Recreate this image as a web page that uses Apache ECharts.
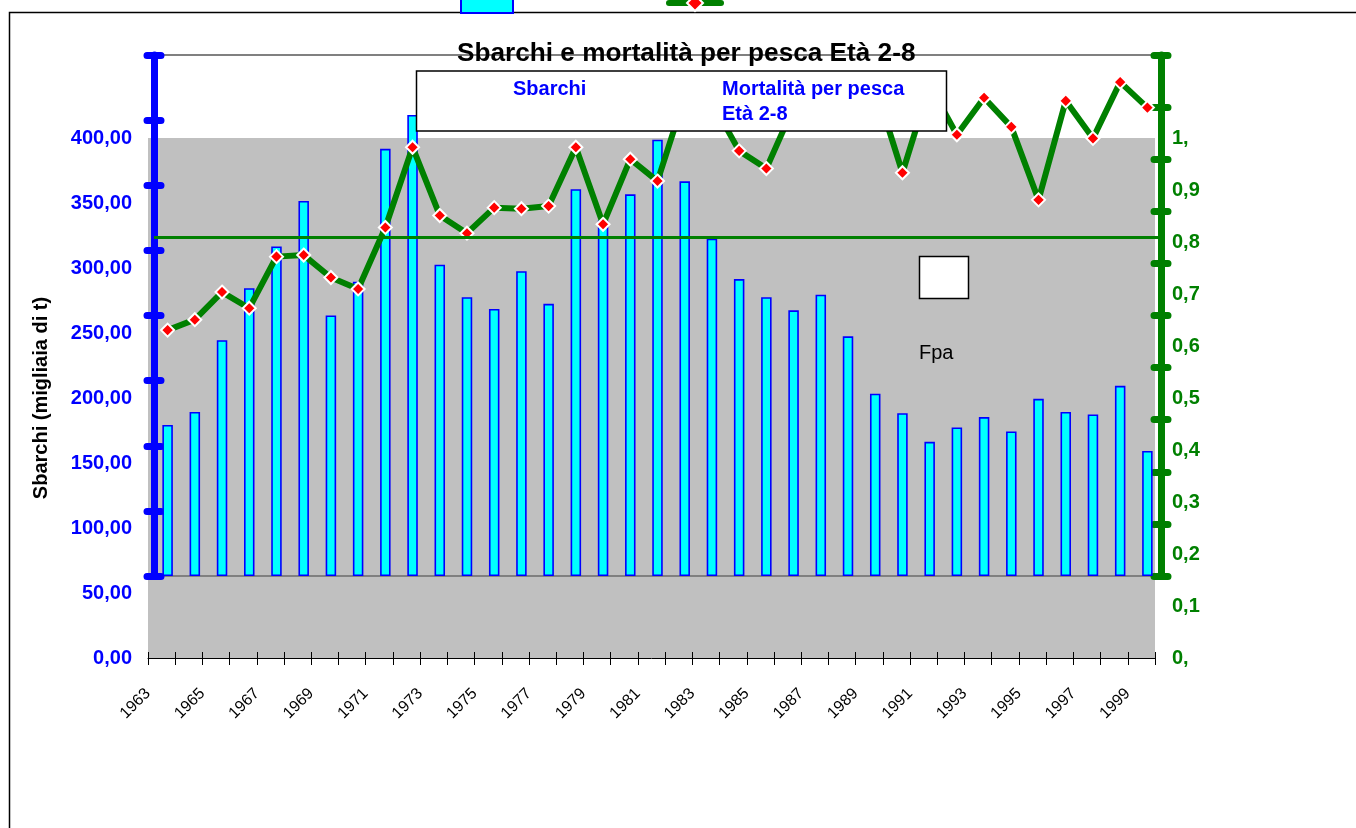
<!DOCTYPE html>
<html>
<head>
<meta charset="utf-8">
<title>Sbarchi e mortalità per pesca Età 2-8</title>
<script src="https://cdn.jsdelivr.net/npm/echarts@6.0.0/dist/echarts.min.js"></script>
<style>
html, body { margin: 0; padding: 0; background: #fff; }
#chart { width: 1356px; height: 828px; }
</style>
</head>
<body>
<div id="chart"></div>
<script>
/* anni (categorie) */
var anni = ['1963', '1964', '1965', '1966', '1967', '1968', '1969', '1970', '1971', '1972',
	'1973', '1974', '1975', '1976', '1977', '1978', '1979', '1980', '1981', '1982',
	'1983', '1984', '1985', '1986', '1987', '1988', '1989', '1990', '1991', '1992',
	'1993', '1994', '1995', '1996', '1997', '1998', '1999'];
/* sbarchi, migliaia di t */
var sbarchi = [116, 126, 181, 221, 253, 288, 200, 226, 328, 354,
	239, 214, 205, 234, 209, 297, 273, 293, 335, 303,
	259, 228, 214, 204, 216, 184, 140, 125, 103, 114,
	122, 111, 136, 126, 124, 146, 96];
/* mortalità per pesca, età 2-8 */
var mortalita = [0.472, 0.492, 0.545, 0.514, 0.613, 0.616, 0.573, 0.551, 0.669, 0.823,
	0.692, 0.658, 0.707, 0.705, 0.710, 0.823, 0.675, 0.800, 0.758, 0.92,
	0.91, 0.816, 0.782, 0.90, 0.91, 0.93, 0.94, 0.774, 0.942, 0.847,
	0.918, 0.862, 0.722, 0.912, 0.840, 0.948, 0.899];
var fpa = 0.65;
/* etichette dei tick: un tick per ogni confine tra anni */
var tickAnni = anni.concat(['']);

window.onload = function() {
	var font = '"Liberation Sans", Arial, sans-serif';
	var myChart = echarts.init(document.getElementById('chart'));

	var option = {
		backgroundColor: '#fff',
		animation: false,
		title: {
			text: 'Sbarchi e mortalità per pesca Età 2-8',
			left: 452,
			top: 36,
			textStyle: { fontFamily: font, fontSize: 26.2, fontWeight: 'bold', color: '#000' }
		},
		/* legenda tagliata in alto */
		legend: {
			left: 460,
			top: -8,
			padding: 0,
			itemWidth: 52,
			itemHeight: 20,
			itemGap: 152,
			selectedMode: false,
			formatter: function() { return ''; },
			data: [
				{ name: 'Sbarchi', icon: 'rect' },
				{ name: 'Mortalità per pesca Età 2-8', lineStyle: { width: 6, cap: 'round' } }
			]
		},
		grid: [{
			/* area grigia con le etichette */
			left: 148, right: 201, top: 138, bottom: 170,
			show: true, backgroundColor: '#c0c0c0', borderWidth: 0
		}, {
			/* area dei dati */
			left: 154, right: 195, top: 55, bottom: 252,
			show: true, backgroundColor: 'transparent', borderColor: '#808080', borderWidth: 2
		}],
		xAxis: [{
			gridIndex: 0,
			type: 'category',
			data: tickAnni,
			boundaryGap: false,
			axisLine: { lineStyle: { color: '#000', width: 1 } },
			axisTick: { interval: 0, length: 7, lineStyle: { color: '#000' } },
			axisLabel: { interval: 1, rotate: 45, margin: 33, color: '#000', fontFamily: font, fontSize: 16 }
		}, {
			gridIndex: 0,
			type: 'category',
			position: 'bottom',
			data: tickAnni,
			boundaryGap: false,
			axisLine: { show: false },
			axisTick: { interval: 0, inside: true, length: 6, lineStyle: { color: '#000' } },
			axisLabel: { show: false }
		}, {
			gridIndex: 1,
			type: 'category',
			data: anni,
			show: false
		}],
		yAxis: [{
			gridIndex: 0,
			type: 'value',
			position: 'left',
			min: 0, max: 400, interval: 50,
			name: 'Sbarchi (migliaia di t)',
			nameLocation: 'middle',
			nameRotate: 90,
			nameGap: 97,
			nameTextStyle: { fontFamily: font, fontSize: 20, fontWeight: 'bold', color: '#000' },
			axisLine: { show: false },
			axisTick: { show: false },
			splitLine: { show: false },
			axisLabel: {
				margin: 16, color: '#0000ff', fontFamily: font, fontSize: 20, fontWeight: 'bold',
				formatter: function(v) { return v.toFixed(2).replace('.', ','); }
			}
		}, {
			gridIndex: 0,
			type: 'value',
			position: 'right',
			min: 0, max: 1, interval: 0.1,
			axisLine: { show: false },
			axisTick: { show: false },
			splitLine: { show: false },
			axisLabel: {
				margin: 17, color: '#008000', fontFamily: font, fontSize: 20, fontWeight: 'bold',
				formatter: function(v) {
					var s = String(Math.round(v * 10) / 10);
					return s.indexOf('.') < 0 ? s + ',' : s.replace('.', ',');
				}
			}
		}, {
			/* asse blu sbarchi */
			gridIndex: 1,
			type: 'value',
			position: 'left',
			min: 0, max: 400, interval: 50,
			axisLine: { show: true, lineStyle: { color: '#0000ff', width: 7, cap: 'round' } },
			axisTick: { show: true, length: 7, lineStyle: { color: '#0000ff', width: 7, cap: 'round' } },
			axisLabel: { show: false },
			splitLine: { show: false }
		}, {
			gridIndex: 1,
			type: 'value',
			position: 'left',
			min: 0, max: 400, interval: 50,
			axisLine: { show: false },
			axisTick: { show: true, inside: true, length: 7, lineStyle: { color: '#0000ff', width: 7, cap: 'round' } },
			axisLabel: { show: false },
			splitLine: { show: false }
		}, {
			/* asse verde mortalità */
			gridIndex: 1,
			type: 'value',
			position: 'right',
			min: 0, max: 1, interval: 0.1,
			axisLine: { show: true, lineStyle: { color: '#008000', width: 7, cap: 'round' } },
			axisTick: { show: true, length: 7, lineStyle: { color: '#008000', width: 7, cap: 'round' } },
			axisLabel: { show: false },
			splitLine: { show: false }
		}, {
			gridIndex: 1,
			type: 'value',
			position: 'right',
			min: 0, max: 1, interval: 0.1,
			axisLine: { show: false },
			axisTick: { show: true, inside: true, length: 7, lineStyle: { color: '#008000', width: 7, cap: 'round' } },
			axisLabel: { show: false },
			splitLine: { show: false }
		}],
		series: [{
			name: 'Sbarchi',
			type: 'bar',
			xAxisIndex: 2,
			yAxisIndex: 2,
			data: sbarchi,
			barWidth: 10.5,
			itemStyle: { color: '#00ffff', borderColor: '#0000ff', borderWidth: 1.6 }
		}, {
			name: 'Mortalità per pesca Età 2-8',
			type: 'line',
			xAxisIndex: 2,
			yAxisIndex: 4,
			data: mortalita,
			symbol: 'diamond',
			symbolSize: 13,
			lineStyle: { color: '#008000', width: 6 },
			itemStyle: { color: '#ff0000', borderColor: '#fff', borderWidth: 2 },
			markLine: {
				silent: true,
				symbol: 'none',
				label: { show: false },
				lineStyle: { color: '#008000', width: 3, type: 'solid' },
				data: [{ yAxis: fpa }]
			}
		}],
		graphic: [{
			/* bordo dell'area del grafico */
			type: 'rect',
			z: 1,
			shape: { x: 9.5, y: 12.5, width: 1400, height: 900 },
			style: { fill: 'none', stroke: '#000', lineWidth: 1.5 }
		}, {
			/* riquadro della legenda */
			type: 'rect',
			z: 100,
			shape: { x: 416.5, y: 71, width: 530, height: 60 },
			style: { fill: '#fff', stroke: '#000', lineWidth: 1.5 }
		}, {
			type: 'text',
			z: 101,
			x: 513, y: 89,
			style: { text: 'Sbarchi', fill: '#0000ff', font: 'bold 20px ' + font, verticalAlign: 'middle' }
		}, {
			type: 'text',
			z: 101,
			x: 722, y: 89,
			style: { text: 'Mortalità per pesca', fill: '#0000ff', font: 'bold 20px ' + font, verticalAlign: 'middle' }
		}, {
			type: 'text',
			z: 101,
			x: 722, y: 114,
			style: { text: 'Età 2-8', fill: '#0000ff', font: 'bold 20px ' + font, verticalAlign: 'middle' }
		}, {
			/* piccolo riquadro bianco */
			type: 'rect',
			z: 100,
			shape: { x: 919.5, y: 256.5, width: 49, height: 42 },
			style: { fill: '#fff', stroke: '#000', lineWidth: 1.5 }
		}, {
			type: 'text',
			z: 101,
			x: 919, y: 353,
			style: { text: 'Fpa', fill: '#000', font: '20px ' + font, verticalAlign: 'middle' }
		}]
	};
	myChart.setOption(option);
}
</script>
</body>
</html>
